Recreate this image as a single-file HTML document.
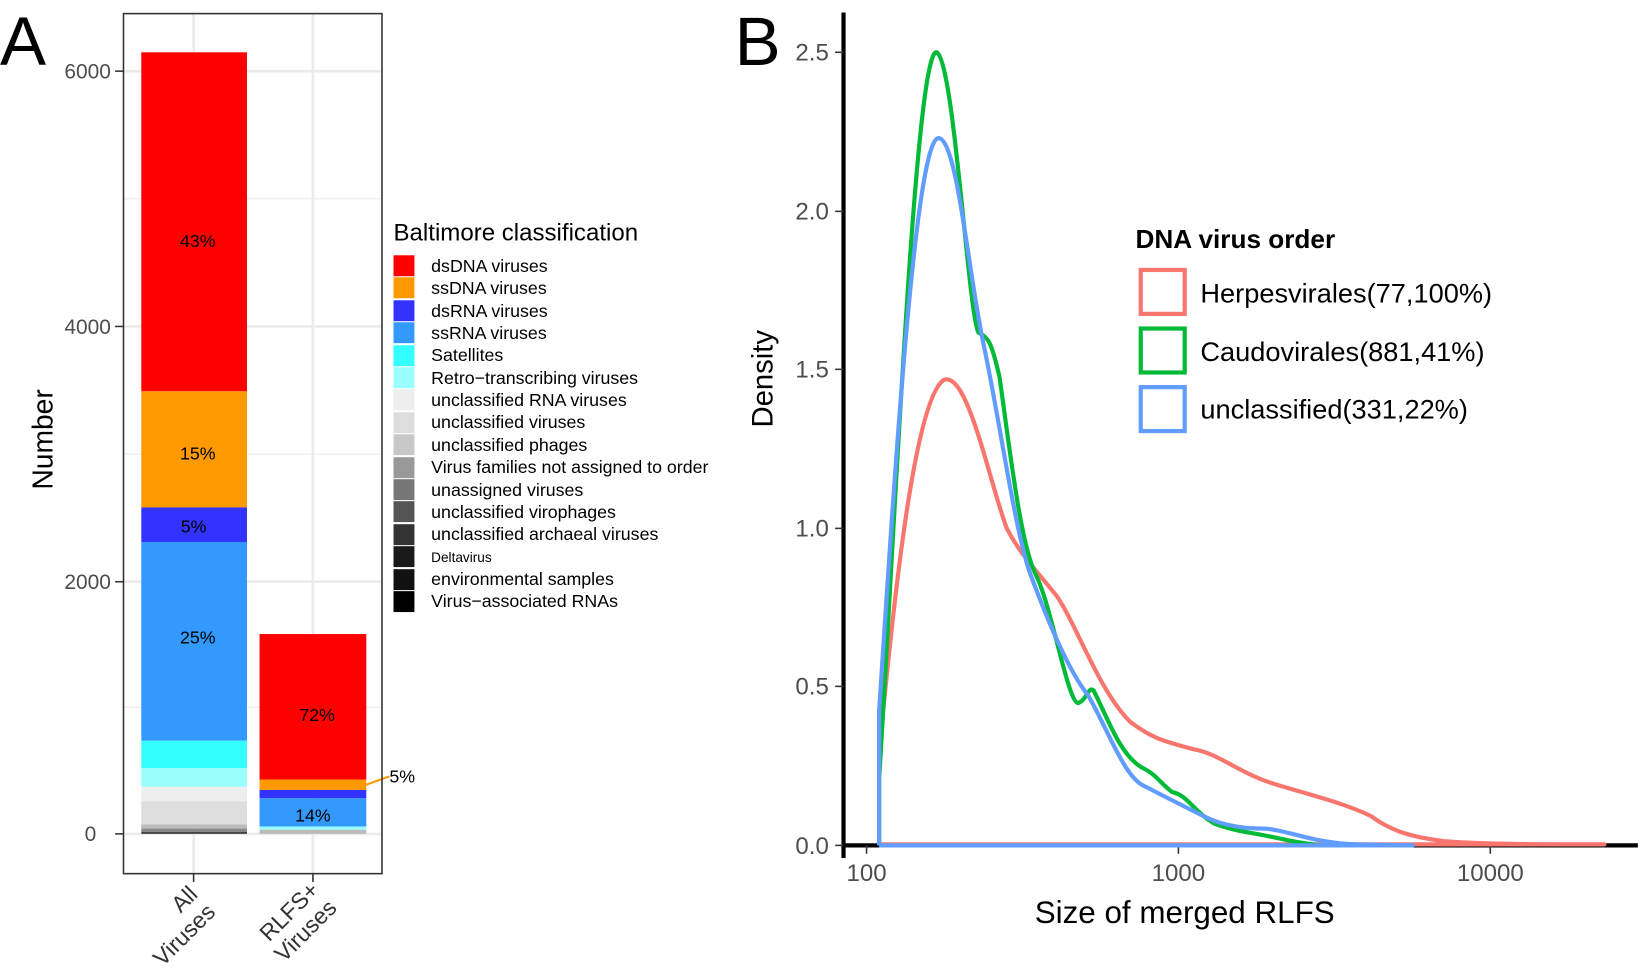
<!DOCTYPE html>
<html><head><meta charset="utf-8"><style>body{margin:0;background:#fff}svg{display:block}text{font-family:"Liberation Sans",sans-serif}</style></head><body>
<svg width="1641" height="972" viewBox="0 0 1568 929" preserveAspectRatio="none">
<text x="0" y="62" font-size="66">A</text>
<text x="702" y="62" font-size="66">B</text>
<!-- Panel A -->
<rect x="118" y="13" width="247" height="822" fill="#fff"/>
<g stroke="#ebebeb" stroke-width="1">
<line x1="118" x2="365" y1="190" y2="190"/><line x1="118" x2="365" y1="434" y2="434"/><line x1="118" x2="365" y1="676" y2="676"/>
</g>
<g stroke="#ebebeb" stroke-width="2.5">
<line x1="118" x2="365" y1="68" y2="68"/><line x1="118" x2="365" y1="312" y2="312"/><line x1="118" x2="365" y1="556" y2="556"/><line x1="118" x2="365" y1="797" y2="797"/>
<line x1="185" x2="185" y1="13" y2="835"/><line x1="299" x2="299" y1="13" y2="835"/>
</g>
<rect x="135" y="50" width="101" height="324" fill="#ff0000"/>
<rect x="135" y="374" width="101" height="111" fill="#ff9900"/>
<rect x="135" y="485" width="101" height="33" fill="#3333ff"/>
<rect x="135" y="518" width="101" height="190" fill="#3399ff"/>
<rect x="135" y="708" width="101" height="26" fill="#33ffff"/>
<rect x="135" y="734" width="101" height="18" fill="#99ffff"/>
<rect x="135" y="752" width="101" height="14" fill="#eeeeee"/>
<rect x="135" y="766" width="101" height="22" fill="#dddddd"/>
<rect x="135" y="788" width="101" height="4" fill="#bbbbbb"/>
<rect x="135" y="792" width="101" height="3" fill="#888"/>
<rect x="135" y="795" width="101" height="2" fill="#444"/>
<rect x="248" y="606" width="102" height="139" fill="#ff0000"/>
<rect x="248" y="745" width="102" height="10" fill="#ff9900"/>
<rect x="248" y="755" width="102" height="8" fill="#3333ff"/>
<rect x="248" y="763" width="102" height="27" fill="#3399ff"/>
<rect x="248" y="790" width="102" height="3" fill="#99ffff"/>
<rect x="248" y="793" width="102" height="4" fill="#bbb"/>
<line x1="350" y1="750" x2="372" y2="742" stroke="#ff9900" stroke-width="2"/>
<rect x="118" y="13" width="247" height="822" fill="none" stroke="#333" stroke-width="1.5"/>
<g font-size="17" text-anchor="middle">
<text x="189" y="236">43%</text><text x="189" y="439">15%</text><text x="185" y="509">5%</text><text x="189" y="615">25%</text>
<text x="303" y="689">72%</text><text x="299" y="785">14%</text></g>
<text x="372" y="748" font-size="17">5%</text>
<g stroke="#333" stroke-width="1.5"><line x1="110" x2="118" y1="68" y2="68"/><line x1="110" x2="118" y1="312" y2="312"/><line x1="110" x2="118" y1="556" y2="556"/><line x1="110" x2="118" y1="797" y2="797"/>
<line x1="185" x2="185" y1="835" y2="843"/><line x1="299" x2="299" y1="835" y2="843"/></g>
<g font-size="20" fill="#4d4d4d" text-anchor="end"><text x="106" y="75">6000</text><text x="106" y="319">4000</text><text x="106" y="563">2000</text><text x="92" y="804">0</text></g>
<text transform="translate(50,420) rotate(-90)" font-size="27" text-anchor="middle">Number</text>
<g font-size="22" fill="#333" text-anchor="end">
<text transform="translate(190,856) rotate(-45)"><tspan x="0" dy="0">All</tspan><tspan x="0" dy="24">Viruses</tspan></text>
<text transform="translate(306,852) rotate(-45)"><tspan x="0" dy="0">RLFS+</tspan><tspan x="0" dy="24">Viruses</tspan></text></g>
<text x="376" y="230" font-size="23">Baltimore classification</text>
<g font-size="17">
<rect x="376" y="244" width="20" height="20" fill="#ff0000"/><text x="412" y="260">dsDNA viruses</text>
<rect x="376" y="265" width="20" height="20" fill="#ff9900"/><text x="412" y="281">ssDNA viruses</text>
<rect x="376" y="287" width="20" height="20" fill="#3333ff"/><text x="412" y="303">dsRNA viruses</text>
<rect x="376" y="308" width="20" height="20" fill="#3399ff"/><text x="412" y="324">ssRNA viruses</text>
<rect x="376" y="330" width="20" height="20" fill="#33ffff"/><text x="412" y="345">Satellites</text>
<rect x="376" y="351" width="20" height="20" fill="#99ffff"/><text x="412" y="367">Retro−transcribing viruses</text>
<rect x="376" y="372" width="20" height="20" fill="#eeeeee"/><text x="412" y="388">unclassified RNA viruses</text>
<rect x="376" y="394" width="20" height="20" fill="#dddddd"/><text x="412" y="409">unclassified viruses</text>
<rect x="376" y="415" width="20" height="20" fill="#c8c8c8"/><text x="412" y="431">unclassified phages</text>
<rect x="376" y="437" width="20" height="20" fill="#999"/><text x="412" y="452">Virus families not assigned to order</text>
<rect x="376" y="458" width="20" height="20" fill="#777"/><text x="412" y="474">unassigned viruses</text>
<rect x="376" y="479" width="20" height="20" fill="#555"/><text x="412" y="495">unclassified virophages</text>
<rect x="376" y="501" width="20" height="20" fill="#333"/><text x="412" y="516">unclassified archaeal viruses</text>
<rect x="376" y="522" width="20" height="20" fill="#1a1a1a"/><text x="412" y="537" font-size="13">Deltavirus</text>
<rect x="376" y="544" width="20" height="20" fill="#111"/><text x="412" y="559">environmental samples</text>
<rect x="376" y="565" width="20" height="20" fill="#000"/><text x="412" y="580">Virus−associated RNAs</text>
</g>
<!-- Panel B -->
<line x1="806" y1="12" x2="806" y2="820" stroke="#000" stroke-width="4"/>
<line x1="804" y1="808" x2="1565" y2="808" stroke="#000" stroke-width="4"/>
<g stroke="#333" stroke-width="1.5">
<line x1="798" x2="806" y1="808" y2="808"/><line x1="798" x2="806" y1="656" y2="656"/><line x1="798" x2="806" y1="505" y2="505"/><line x1="798" x2="806" y1="353" y2="353"/><line x1="798" x2="806" y1="202" y2="202"/><line x1="798" x2="806" y1="50" y2="50"/>
<line x1="828" x2="828" y1="808" y2="816"/><line x1="1126" x2="1126" y1="808" y2="816"/><line x1="1424" x2="1424" y1="808" y2="816"/></g>
<g font-size="23" fill="#4d4d4d" text-anchor="end"><text x="792" y="816">0.0</text><text x="792" y="664">0.5</text><text x="792" y="513">1.0</text><text x="792" y="361">1.5</text><text x="792" y="210">2.0</text><text x="792" y="58">2.5</text></g>
<g font-size="23" fill="#4d4d4d" text-anchor="middle"><text x="828" y="842">100</text><text x="1126" y="842">1000</text><text x="1424" y="842">10000</text></g>
<text x="1132" y="882" font-size="30" text-anchor="middle">Size of merged RLFS</text>
<text transform="translate(738,362) rotate(-90)" font-size="28" text-anchor="middle">Density</text>
<g fill="none" stroke-width="4" stroke-linejoin="round">
<path stroke="#f8766d" d="M840,808 L840,720 C855,560 875,380 902,363 C925,355 945,460 962,505 C975,530 990,545 1010,570 C1030,600 1050,660 1080,690 C1100,705 1110,708 1140,716 C1165,720 1185,740 1220,750 C1260,762 1285,768 1310,780 C1330,795 1350,800 1380,804 C1420,807 1470,807 1533,807 L840,807"/>
<path stroke="#00ba38" d="M840,808 L840,745 C855,500 875,45 895,50 C912,60 925,300 935,318 C945,322 948,330 955,360 C965,430 975,520 990,550 C1005,580 1020,670 1030,672 C1038,670 1040,655 1045,660 C1060,690 1070,720 1090,733 C1105,740 1108,748 1120,757 C1135,760 1140,775 1160,787 C1180,795 1200,796 1230,803 C1245,806 1260,808 1265,808"/>
<path stroke="#619cff" d="M840,808 L840,680 C855,450 875,130 897,132 C915,135 925,260 940,330 C955,400 970,510 985,550 C1000,590 1020,640 1040,665 C1060,700 1075,745 1095,752 C1110,760 1130,770 1150,780 C1170,790 1190,792 1210,792 C1230,794 1250,803 1280,806 C1300,808 1330,807 1350,808 L840,808"/>
</g>
<text x="1085" y="237" font-size="25" font-weight="bold">DNA virus order</text>
<g fill="none" stroke-width="4"><rect x="1090" y="258" width="42" height="42" stroke="#f8766d"/><rect x="1090" y="314" width="42" height="42" stroke="#00ba38"/><rect x="1090" y="370" width="42" height="42" stroke="#619cff"/></g>
<g font-size="26"><text x="1147" y="289">Herpesvirales(77,100%)</text><text x="1147" y="345">Caudovirales(881,41%)</text><text x="1147" y="400">unclassified(331,22%)</text></g>
</svg>
</body></html>
